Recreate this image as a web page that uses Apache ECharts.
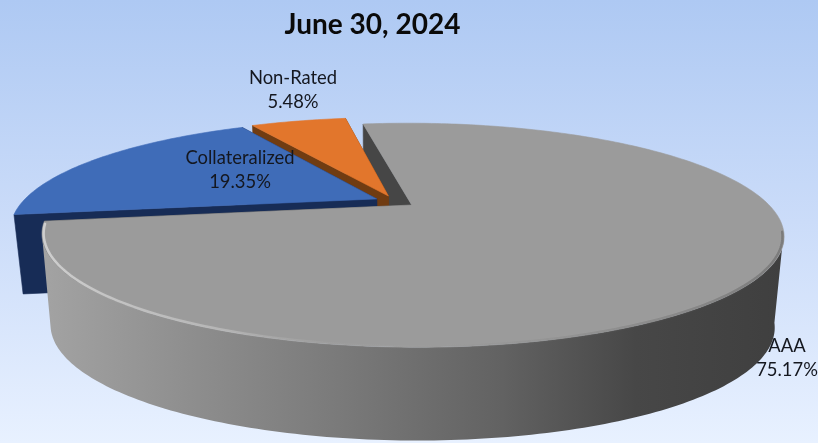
<!DOCTYPE html>
<html>
<head>
<meta charset="utf-8">
<style>html,body{margin:0;padding:0;background:#fff}#chart{width:818px;height:443px}</style>
<script src="https://cdn.jsdelivr.net/npm/echarts@6/dist/echarts.min.js"></script>
</head>
<body>
<div id="chart"></div>
<script>
// Portfolio credit quality split at one reporting date.
const titleText = 'June 30, 2024';
const categories = ['AAA', 'Collateralized', 'Non-Rated'];
const shares = [75.17, 19.35, 5.48];

// Drawing styles per slice.
const topColors = ['#9b9b9b', '#3f6cb8', '#e2762c'];
const cutColors = ['#464646', '#172c56', '#703c12'];
const layerOrder = [30, 20, 10];
const wallDepth = [90, 79, 79];
const labelCenters = [[787, 358], [240, 170], [293, 90]];

// Tilted-disc projection: disc coordinates (u right, v away from the viewer).
const disc = { cx: 395, cy: 201.5, a: 354, b: 102, p: 0.267, explode: 0.058, taper: 0.976, lowShift: 0, startDeg: -9.2 };

function project(u, v, depth) {
  const w = 1 + disc.p * v;
  const s = depth ? disc.taper : 1;
  return [
    disc.cx + (s * disc.a * u) / w + (depth ? disc.lowShift : 0),
    disc.cy + (depth || 0) + (depth ? -3.2 * v : 0) - (disc.b * v) / w
  ];
}

function sliceGeometry(index) {
  const total = shares.reduce((s, x) => s + x, 0);
  let start = disc.startDeg;
  for (let i = 0; i < index; i++) start += (shares[i] / total) * 360;
  const sweep = (shares[index] / total) * 360;
  const mid = ((start + sweep / 2) * Math.PI) / 180;
  return { start, sweep, u0: disc.explode * Math.sin(mid), v0: disc.explode * Math.cos(mid) };
}

function rimPoint(g, deg, depth, scale) {
  const t = (deg * Math.PI) / 180;
  const r = scale || 1;
  return project(g.u0 + r * Math.sin(t), g.v0 + r * Math.cos(t), depth);
}

function arc(g, from, to, depth, scale) {
  const pts = [];
  const n = Math.max(2, Math.ceil(Math.abs(to - from)));
  for (let i = 0; i <= n; i++) pts.push(rimPoint(g, from + ((to - from) * i) / n, depth, scale));
  return pts;
}

function poly(points, fill, z2) {
  return {
    type: 'polygon',
    z2,
    shape: { points },
    style: { fill, stroke: fill, lineWidth: 0.6 }
  };
}

function renderSlice(params, api) {
  const i = params.dataIndex;
  const share = api.value(0);
  const g = sliceGeometry(i);
  const end = g.start + (share / shares.reduce((s, x) => s + x, 0)) * 360;
  const depth = wallDepth[i];
  const z = layerOrder[i];
  const apexTop = project(g.u0, g.v0);
  const apexLow = project(g.u0, g.v0, depth);
  const children = [];

  // Flat cut faces on both radial edges.
  children.push(poly([apexTop, rimPoint(g, g.start), rimPoint(g, g.start, depth), apexLow],
    cutColors[i], i === 0 ? 1 : z));
  children.push(poly([apexTop, rimPoint(g, end), rimPoint(g, end, depth), apexLow], cutColors[i], z));

  // Visible outer wall, the near half of the disc rim.
  if (i === 0) {
    const fromDeg = 104;
    const toDeg = 254;
    const wall = arc(g, fromDeg, toDeg).concat(arc(g, toDeg, fromDeg, depth));
    children.push({
      type: 'polygon',
      z2: z + 1,
      shape: { points: wall },
      style: {
        fill: new echarts.graphic.LinearGradient(0, 0, 1, 0, [
          { offset: 0, color: '#a3a3a3' },
          { offset: 0.2, color: '#8e8e8e' },
          { offset: 0.4, color: '#7a7a7a' },
          { offset: 0.62, color: '#626262' },
          { offset: 0.8, color: '#474747' },
          { offset: 1, color: '#3f3f3f' }
        ])
      }
    });
  }

  // Top face.
  children.push(poly([apexTop].concat(arc(g, g.start, end)), topColors[i], z + 2));

  // Soft bevel hugging the front of the AAA rim: bright on the left, dark on the right.
  if (i === 0) {
    children.push({
      type: 'polyline',
      z2: z + 3,
      shape: { points: arc(g, 104, 260, 0, 0.996) },
      style: {
        fill: null,
        lineWidth: 2.5,
        lineCap: 'round',
        shadowBlur: 2,
        shadowColor: 'rgba(170,170,170,0.4)',
        stroke: new echarts.graphic.LinearGradient(40, 0, 785, 0, [
          { offset: 0, color: 'rgba(215,215,215,0.85)' },
          { offset: 0.25, color: 'rgba(200,200,200,0.55)' },
          { offset: 0.4, color: 'rgba(170,170,170,0.1)' },
          { offset: 0.75, color: 'rgba(120,120,120,0.35)' },
          { offset: 1, color: 'rgba(90,90,90,0.5)' }
        ], true)
      }
    });
  }

  // Two-line label: name and share.
  children.push({
    type: 'text',
    z2: 50,
    style: {
      x: labelCenters[i][0],
      y: labelCenters[i][1],
      text: categories[i] + '\n' + share.toFixed(2) + '%',
      fill: '#14171f',
      font: '18.4px Lato, Carlito, sans-serif',
      lineHeight: 24.5,
      align: 'center',
      verticalAlign: 'middle'
    }
  });
  return { type: 'group', children };
}

const chart = echarts.init(document.getElementById('chart'), null, { renderer: 'canvas' });
chart.setOption({
  animation: false,
  backgroundColor: new echarts.graphic.LinearGradient(0, 0, 0, 1, [
    { offset: 0, color: '#aec9f3' },
    { offset: 0.5, color: '#cbdcf9' },
    { offset: 1, color: '#e8f1ff' }
  ]),
  title: {
    text: titleText,
    left: 367.5,
    top: 6,
    textAlign: 'center',
    textStyle: { fontFamily: 'Lato, Carlito, sans-serif', fontWeight: 'bold', fontSize: 28, color: '#0a0a0a' }
  },
  series: [{
    type: 'custom',
    coordinateSystem: 'none',
    renderItem: renderSlice,
    data: shares.map(function (v) { return [v]; }),
    silent: true
  }]
});
</script>
</body>
</html>
